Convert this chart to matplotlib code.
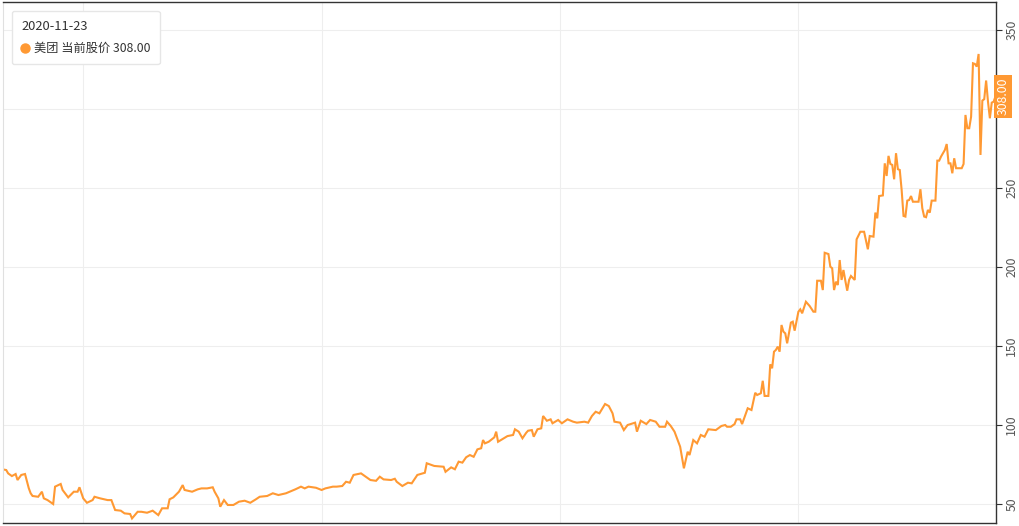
import matplotlib
matplotlib.use('Agg')
import matplotlib.pyplot as plt
from matplotlib.lines import Line2D
import matplotlib.transforms as mtransforms

plt.rcParams['font.family'] = ['Noto Sans CJK SC', 'DejaVu Sans']

# trading-day index and closing price (HKD)
days = [0, 2, 3, 5, 7, 8, 10, 12, 14, 15, 16, 19, 21, 22, 24, 27, 28, 31, 32, 35,
        38, 40, 41, 43, 45, 48, 49, 52, 56, 58, 60, 63, 65, 68, 69, 72, 74, 77, 80, 83,
        85, 88, 89, 91, 94, 96, 97, 101, 104, 106, 109, 112, 113, 115, 116, 118, 120, 123, 126, 129,
        132, 135, 137, 141, 144, 147, 151, 153, 156, 159, 161, 163, 167, 170, 172, 176, 178, 181, 183, 185,
        187, 191, 193, 196, 199, 201, 203, 207, 209, 210, 213, 216, 218, 221, 224, 225, 226, 230, 235, 236,
        239, 241, 243, 245, 247, 249, 251, 253, 255, 256, 257, 259, 262, 263, 264, 267, 269, 272, 273, 275,
        277, 279, 280, 282, 283, 285, 287, 288, 290, 292, 293, 296, 298, 301, 304, 306, 310, 312, 314, 316,
        318, 321, 323, 325, 326, 329, 331, 333, 336, 337, 338, 340, 343, 345, 348, 350, 353, 354, 356, 358,
        360, 361, 363, 365, 366, 368, 370, 372, 374, 376, 380, 383, 385, 386, 388, 390, 391, 393, 394, 396,
        397, 399, 401, 402, 404, 405, 406, 408, 409, 410, 411, 412, 413, 414, 415, 416, 417, 418, 420, 421,
        422, 424, 425, 426, 428, 430, 432, 433, 434, 436, 437, 438, 440, 441, 442, 443, 444, 445, 446, 447,
        448, 449, 450, 451, 452, 454, 455, 457, 459, 461, 462, 464, 465, 466, 467, 469, 470, 471, 472, 473,
        474, 475, 476, 477, 478, 479, 480, 481, 482, 483, 484, 485, 488, 489, 490, 491, 492, 493, 494, 495,
        497, 498, 499, 500, 502, 503, 504, 505, 506, 507, 508, 511, 512, 513, 514, 515, 516, 517, 518, 519,
        520, 521, 522, 523, 524, 525, 526, 527, 528, 529]
price = [72.0, 71.5, 69.4, 67.7, 69.0, 65.2, 68.4, 69.0, 60.0, 56.8, 55.1, 54.6, 57.8, 53.6, 52.5, 50.0, 61.0, 62.7, 58.9, 54.2,
         57.8, 57.8, 60.6, 53.6, 50.8, 52.5, 54.6, 53.6, 52.5, 52.5, 46.2, 45.8, 44.1, 43.7, 40.9, 45.1, 45.1, 44.5, 45.8, 43.0,
         47.3, 47.3, 53.0, 54.2, 57.8, 62.0, 58.9, 57.8, 59.3, 59.9, 59.9, 60.6, 57.8, 53.6, 48.3, 52.5, 49.4, 49.4, 51.5, 52.1,
         50.8, 53.0, 54.6, 55.1, 56.8, 55.7, 56.8, 57.8, 59.3, 61.0, 59.9, 61.0, 60.3, 58.9, 59.9, 61.0, 61.0, 61.4, 64.1, 63.5,
         68.4, 69.4, 67.7, 65.2, 64.7, 67.3, 65.6, 65.2, 66.0, 64.1, 61.4, 63.5, 63.1, 68.4, 69.4, 69.8, 75.8, 74.1, 73.6, 70.4,
         73.2, 72.0, 76.8, 76.2, 79.6, 81.0, 79.9, 84.6, 85.3, 90.5, 88.4, 89.4, 92.2, 95.8, 89.4, 91.6, 93.0, 93.7, 97.3, 95.8,
         91.6, 95.1, 96.4, 96.8, 92.6, 97.3, 97.9, 105.7, 102.7, 103.6, 101.1, 103.2, 101.1, 103.6, 102.1, 101.5, 102.1, 101.5, 105.7, 108.4,
         107.4, 113.3, 112.0, 107.4, 102.1, 101.5, 96.8, 100.0, 101.1, 101.5, 95.8, 102.7, 100.6, 103.2, 102.1, 98.9, 98.9, 102.1, 99.4, 95.8,
         89.4, 86.3, 72.6, 83.1, 81.0, 90.5, 88.4, 93.7, 92.6, 97.3, 96.8, 99.4, 100.0, 98.9, 98.9, 100.6, 103.6, 103.6, 100.6, 107.4,
         110.6, 109.5, 120.4, 119.0, 120.1, 128.0, 118.4, 118.4, 138.4, 135.9, 146.4, 147.5, 149.6, 146.4, 163.3, 159.1, 158.0, 151.7, 164.8, 165.4,
         159.7, 171.7, 173.2, 170.7, 178.0, 175.3, 171.7, 171.7, 191.3, 191.3, 185.4, 209.0, 208.2, 200.2, 199.2, 185.4, 190.7, 188.6, 204.4, 191.8,
         198.1, 191.3, 185.0, 191.8, 194.3, 191.8, 217.5, 222.3, 222.3, 211.2, 219.6, 219.2, 234.4, 230.8, 244.9, 245.3, 265.6, 257.6, 270.3, 265.2,
         264.6, 255.5, 272.0, 261.9, 261.4, 248.7, 232.3, 231.9, 242.0, 242.4, 244.9, 241.3, 241.3, 249.2, 237.2, 231.9, 231.5, 236.1, 234.4, 242.0,
         242.0, 267.3, 267.3, 269.9, 274.0, 277.8, 265.6, 265.6, 259.3, 268.8, 262.5, 262.5, 265.2, 296.2, 287.8, 287.8, 295.1, 328.9, 328.5, 326.8,
         334.8, 270.9, 305.3, 306.2, 318.0, 304.6, 294.1, 304.0, 304.6, 308.0]

y_ticks = [50, 100, 150, 200, 250, 300, 350]
grid_days = [43, 170, 297, 424]
last_date = '2020-11-23'
name = '美团'
last_price = 308.00

orange = '#ff9933'

fig = plt.figure(figsize=(10.19, 5.26), dpi=100)
ax = fig.add_axes([2.5 / 1019, 3 / 526, 993 / 1019, 521.5 / 526])

ax.plot(days, price, color=orange, linewidth=1.5, solid_joinstyle='miter')

ax.set_xlim(0, 529)
ax.set_ylim(38.0, 368.0)

# grid
ax.set_xticks(grid_days)
ax.set_yticks(y_ticks)
ax.grid(True, color='#eeeeee', linewidth=0.8)
ax.set_axisbelow(True)
ax.tick_params(axis='x', length=0, labelbottom=False)
ax.yaxis.tick_right()
ax.tick_params(axis='y', direction='out', length=4, width=0.8, color='#333333',
               labelsize=8.8, labelcolor='#555555', pad=3)
for tick_val, lab in zip(y_ticks, ax.get_yticklabels()):
    lab.set_rotation(90)
    lab.set_verticalalignment('center')
    # the price tag sits on top of this label in the original
    if abs(tick_val - last_price) < 20:
        lab.set_visible(False)

for side in ['top', 'bottom', 'right']:
    ax.spines[side].set_color('#333333')
    ax.spines[side].set_linewidth(1.0)
ax.spines['left'].set_color('#e0e0e0')
ax.spines['left'].set_linewidth(0.8)

# current price tag on the right axis
trans = mtransforms.blended_transform_factory(ax.transAxes, ax.transData)
ax.text(1.0008, last_price, f'{last_price:.2f}', transform=trans, rotation=90,
        ha='left', va='center', color='white', fontsize=8.8, clip_on=False, zorder=5,
        bbox=dict(boxstyle='square,pad=0.22', facecolor=orange, edgecolor='none'))

# tooltip-like legend
handle = Line2D([], [], marker='o', linestyle='', markersize=6.5,
                markerfacecolor=orange, markeredgecolor=orange)
leg = ax.legend([handle], [f'{name} 当前股价 {last_price:.2f}'], title=last_date,
                loc='upper left', bbox_to_anchor=(0.0096, 0.982), borderaxespad=0,
                alignment='left', fontsize=8.8, title_fontsize=9.3, frameon=True,
                fancybox=True, edgecolor='#e6e6e6', framealpha=1.0, handlelength=0.6,
                handletextpad=0.45, borderpad=0.75, labelspacing=0.75)
leg.get_title().set_color('#333333')
for t in leg.get_texts():
    t.set_color('#333333')

fig.savefig('out.png', dpi=100)
